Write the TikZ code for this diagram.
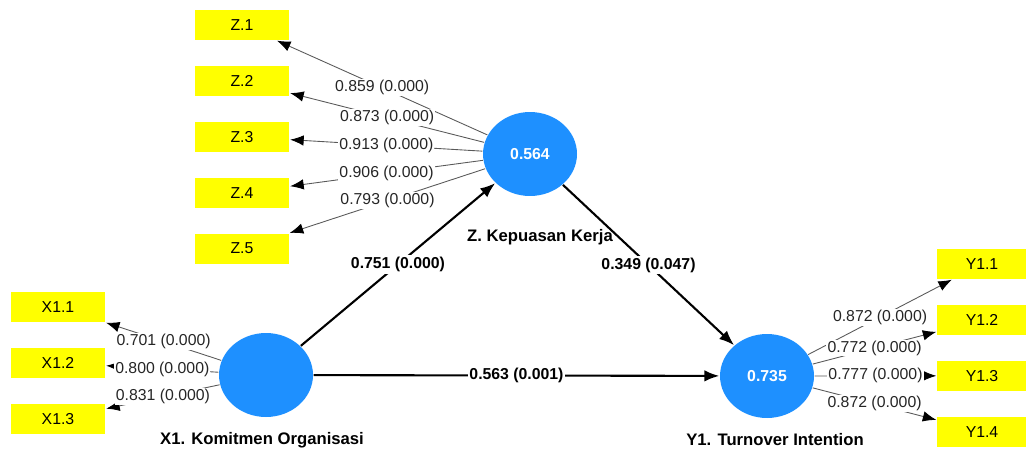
\documentclass[tikz,border=0pt]{standalone}
\usepackage{fontspec}
\setmainfont{Liberation Sans}
\usetikzlibrary{positioning,shapes,arrows,arrows.meta}
\definecolor{lvblue}{RGB}{30,144,255}
\definecolor{mvyellow}{RGB}{255,255,0}
\tikzset{every picture/.style={line width=0.8pt}}

\begin{document}
\begin{tikzpicture}[x=0.02cm, y=-0.02cm, font=\fontsize{9}{10}\selectfont,
    latent/.style={ellipse, fill=lvblue, minimum width=1.88cm, minimum height=1.68cm, text=white, font=\fontsize{9}{10}\selectfont\bfseries},
    indicator/.style={rectangle, fill=mvyellow, minimum width=1.9cm, minimum height=0.6cm},
    lvname/.style={font=\fontsize{9.5}{11}\selectfont\bfseries},
    loading/.style={-{Latex[length=2.7mm, width=2.1mm, color=black]}, line width=0.5pt, draw=black!65},
    loadlabel/.style={midway, fill=white, inner sep=0.6pt, text=black!85},
    structpath/.style={-{Latex[length=3mm, width=2.3mm]}, line width=1.2pt},
    pathlabel/.style={midway, fill=white, inner sep=1pt, font=\fontsize{9}{10}\selectfont\bfseries}]
\useasboundingbox (0,0) rectangle (1026,453);

    % Latent variables
\node[latent] (Z) at (530,154) {0.564};
\node[latent] (X) at (266,375) {};
\node[latent] (Y) at (767,376) {0.735};
\node[lvname] (Zname) at (540,237) {Z. Kepuasan Kerja};
\node[lvname] (Xname) at (262,440) {X1. Komitmen Organisasi};
\node[lvname] (Yname) at (775,440) {Y1. Turnover Intention};

    % Indicators of Z
\node[indicator] (Z1) at (242,25) {Z.1};
\node[indicator, below=0.49cm of Z1] (Z2) {Z.2};
\node[indicator, below=0.49cm of Z2] (Z3) {Z.3};
\node[indicator, below=0.49cm of Z3] (Z4) {Z.4};
\node[indicator, below=0.49cm of Z4] (Z5) {Z.5};

    % Indicators of X1
\node[indicator] (X11) at (58,307) {X1.1};
\node[indicator, below=0.49cm of X11] (X12) {X1.2};
\node[indicator, below=0.49cm of X12] (X13) {X1.3};

    % Indicators of Y1
\node[indicator, minimum width=1.8cm] (Y11) at (982,264) {Y1.1};
\node[indicator, minimum width=1.8cm, below=0.49cm of Y11] (Y12) {Y1.2};
\node[indicator, minimum width=1.8cm, below=0.49cm of Y12] (Y13) {Y1.3};
\node[indicator, minimum width=1.8cm, below=0.49cm of Y13] (Y14) {Y1.4};

    % Outer loadings
    \draw[loading] (Z) -- (Z1) node[loadlabel] {0.859 (0.000)};
    \draw[loading] (Z) -- (Z2) node[loadlabel] {0.873 (0.000)};
    \draw[loading] (Z) -- (Z3) node[loadlabel] {0.913 (0.000)};
    \draw[loading] (Z) -- (Z4) node[loadlabel] {0.906 (0.000)};
    \draw[loading] (Z) -- (Z5) node[loadlabel] {0.793 (0.000)};

    \draw[loading] (X) -- (X11) node[loadlabel] {0.701 (0.000)};
    \draw[loading] (X) -- (X12) node[loadlabel] {0.800 (0.000)};
    \draw[loading] (X) -- (X13) node[loadlabel] {0.831 (0.000)};

    \draw[loading] (Y) -- (Y11) node[loadlabel] {0.872 (0.000)};
    \draw[loading] (Y) -- (Y12) node[loadlabel] {0.772 (0.000)};
    \draw[loading] (Y) -- (Y13) node[loadlabel] {0.777 (0.000)};
    \draw[loading] (Y) -- (Y14) node[loadlabel] {0.872 (0.000)};

    % Structural paths
    \draw[structpath] (X) -- (Z) node[pathlabel] {0.751 (0.000)};
    \draw[structpath] (Z) -- (Y) node[pathlabel] {0.349 (0.047)};
    \draw[structpath] (X) -- (Y) node[pathlabel] {0.563 (0.001)};
\end{tikzpicture}
\end{document}
